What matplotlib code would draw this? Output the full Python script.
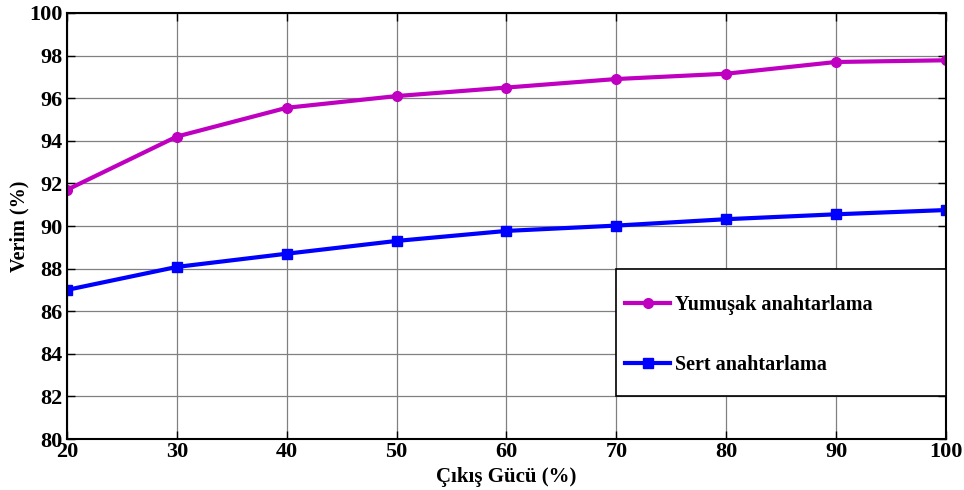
import matplotlib
matplotlib.use("Agg")
import matplotlib.pyplot as plt
from matplotlib.patches import Rectangle

# Output power (%) and efficiency (%) for the two switching modes
power = [20, 30, 40, 50, 60, 70, 80, 90, 100]
soft_eff = [91.7, 94.2, 95.55, 96.1, 96.5, 96.9, 97.15, 97.7, 97.78]
hard_eff = [87.0, 88.08, 88.7, 89.3, 89.77, 90.02, 90.32, 90.55, 90.75]

x_ticks = [20, 30, 40, 50, 60, 70, 80, 90, 100]
y_ticks = [80, 82, 84, 86, 88, 90, 92, 94, 96, 98, 100]

plt.rcParams['font.family'] = ['Liberation Serif', 'DejaVu Serif']
plt.rcParams['font.weight'] = 'bold'

fig = plt.figure(figsize=(9.64, 4.90), dpi=100)
ax = fig.add_axes([0.0695, 0.104, 0.9118, 0.8695])

ax.plot(power, soft_eff, color='#c000c0', lw=3, marker='o', ms=7,
        label='Yumuşak anahtarlama')
ax.plot(power, hard_eff, color='#0000ff', lw=3, marker='s', ms=7,
        label='Sert anahtarlama')

ax.set_xlim(20, 100)
ax.set_ylim(80, 100)
ax.set_xticks(x_ticks)
ax.set_yticks(y_ticks)
ax.grid(True, color='#808080', lw=0.9)
ax.set_axisbelow(True)

ax.tick_params(direction='in', length=6, width=1, top=True, right=True,
               labelsize=16, pad=2)
ax.tick_params(axis='y', pad=3)
for lbl in ax.get_xticklabels() + ax.get_yticklabels():
    lbl.set_fontweight('bold')
for sp in ax.spines.values():
    sp.set_linewidth(1.5)

ax.set_xlabel('Çıkış Gücü (%)', fontsize=15, fontweight='bold', labelpad=4)
ax.set_ylabel('Verim (%)', fontsize=14.5, fontweight='bold', labelpad=0)

# Legend box spanning the lower-right part of the axes
box = Rectangle((0.625, 0.101), 0.375, 0.298, transform=ax.transAxes,
                facecolor='white', edgecolor='black', lw=1.2, zorder=5,
                clip_on=False)
ax.add_patch(box)

leg = ax.legend(loc='center left', bbox_to_anchor=(0.635, 0.244),
                borderaxespad=0, borderpad=0, frameon=False,
                prop={'size': 14.5, 'weight': 'bold'},
                labelspacing=1.95, handlelength=2.24, handletextpad=0.25)
leg.set_zorder(6)

fig.savefig('out.png', dpi=100)
